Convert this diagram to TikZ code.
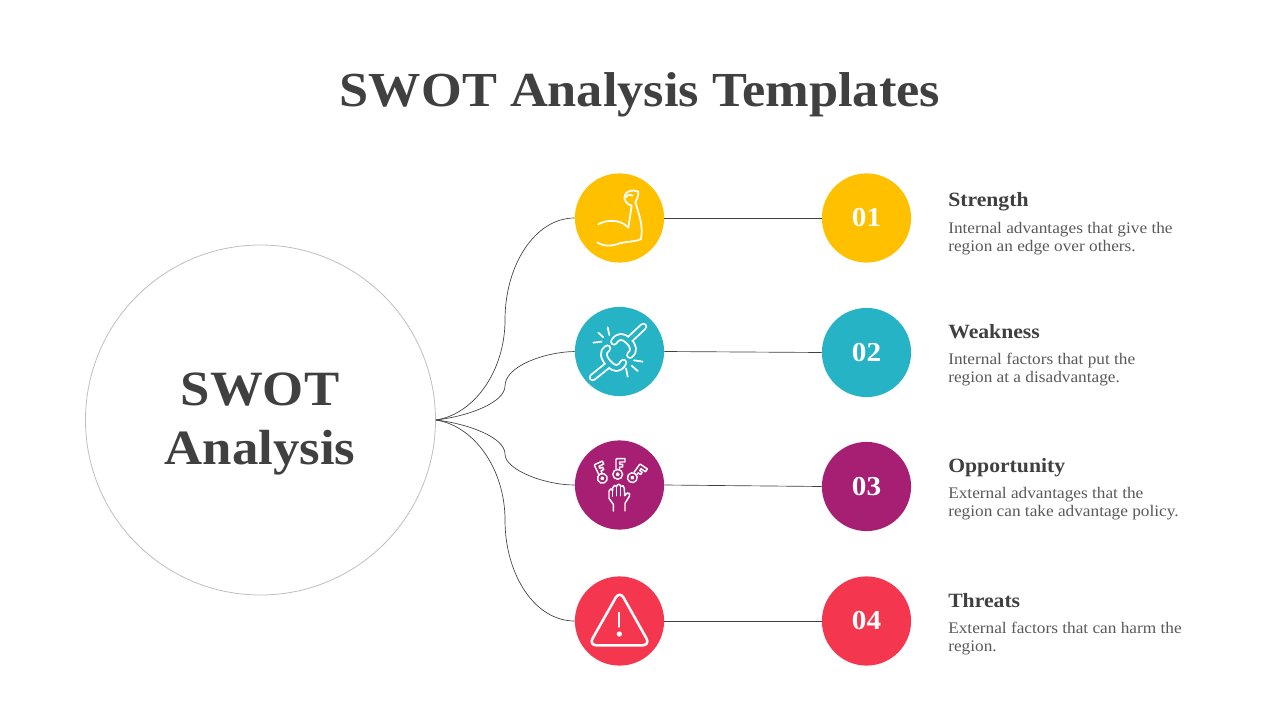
\documentclass[tikz,border=0pt]{standalone}
\usepackage{fontspec}
\setmainfont{Liberation Serif}[FakeStretch=1.07]
\definecolor{ink}{HTML}{404040}
\definecolor{bodyink}{HTML}{595959}
\definecolor{cyel}{HTML}{FFC000}
\definecolor{cteal}{HTML}{25B3C5}
\definecolor{cpur}{HTML}{A61F72}
\definecolor{cred}{HTML}{F4364F}
\tikzset{
  disc/.style={circle,inner sep=0pt,minimum size=66.9pt,fill=#1,text=white,font=\fontsize{20.5}{21}\selectfont\bfseries},
  link/.style={draw=ink,line width=0.5pt},
  heading/.style={anchor=base west,inner sep=0pt,text=ink,font=\fontsize{15.2}{18}\selectfont\bfseries},
  body/.style={anchor=north west,inner sep=0pt,align=left,text=bodyink,font=\fontsize{12.1}{13.7}\selectfont},
  ico/.style={draw=white,line width=1.3pt,line cap=round,line join=round,fill=none},
  icon/.style={x=0.25pt,y=-0.25pt,shift={#1}},
  outer/.style={draw=white,line width=5.8pt,line cap=round,line join=round},
  inner/.style={draw=#1,line width=3pt,line cap=round,line join=round}
}
\newcommand{\keyshape}[1]{%
  \fill[white] (0,0) circle[radius=17];
  \fill[#1] (0,0) circle[radius=12];
  \draw[ico,line width=1.1pt] (0,0) circle[radius=4];
  \draw[ico,line width=1.1pt] (-5,-16) -- (-5,-44) -- (-3,-47) -- (22,-47) -- (22,-37) -- (6,-37) -- (6,-30) -- (15,-30) -- (15,-22) -- (6,-22) -- (6,-16);
}
\begin{document}
\begin{tikzpicture}[x=0.75pt,y=-0.75pt]
\useasboundingbox (0,0) rectangle (1280,720);
\node[text=ink,font=\fontsize{36.7}{37}\selectfont\bfseries,anchor=base,inner sep=0pt] (title) at (640,106.5) {SWOT Analysis Templates};
\node[circle,draw=black!25,line width=0.6pt,minimum size=262.5pt,inner sep=0pt] (main) at (260.5,420) {};
\node[text=ink,align=center,inner sep=0pt,font=\fontsize{37}{44.5}\selectfont\bfseries] (mainlabel) at (260,424) {SWOT\\Analysis};

\node[disc=cyel] (i1) at (619.5,218) {};
\node[disc=cteal] (i2) at (619.5,351.5) {};
\node[disc=cpur] (i3) at (619.5,485) {};
\node[disc=cred] (i4) at (619.5,621) {};
\node[disc=cyel] (n1) at (866.5,218) {01};
\node[disc=cteal] (n2) at (866.5,352.5) {02};
\node[disc=cpur] (n3) at (866.5,486.5) {03};
\node[disc=cred] (n4) at (866.5,621) {04};

\coordinate (m1) at (505,320);
\coordinate (m2) at (505,386);
\coordinate (m3) at (505,454);
\coordinate (m4) at (505,520);
\draw[link] (main.east) .. controls (475,414) and (505,370) .. (m1) .. controls (505,265) and (535,218) .. (i1.west);
\draw[link] (main.east) .. controls (470,416) and (505,402) .. (m2) .. controls (505,366) and (545,352) .. (i2.west);
\draw[link] (main.east) .. controls (470,424) and (505,438) .. (m3) .. controls (505,470) and (545,485) .. (i3.west);
\draw[link] (main.east) .. controls (475,426) and (505,470) .. (m4) .. controls (505,575) and (535,621) .. (i4.west);
\draw[link] (i1.east) -- (n1.west);
\draw[link] (i2.east) -- (n2.west);
\draw[link] (i3.east) -- (n3.west);
\draw[link] (i4.east) -- (n4.west);

\node[heading] (h1) at (948,207) {Strength};
\node[heading] (h2) at (948,338) {Weakness};
\node[heading] (h3) at (948,472) {Opportunity};
\node[heading] (h4) at (948,607) {Threats};
\node[body] (b1) at (948,222) {Internal advantages that give the\\region an edge over others.};
\node[body] (b2) at (948,353) {Internal factors that put the\\region at a disadvantage.};
\node[body] (b3) at (948,487) {External advantages that the\\region can take advantage policy.};
\node[body] (b4) at (948,622) {External factors that can harm the\\region.};

% strength icon
\begin{scope}[icon={(427.5pt,-123.75pt)}]
\draw[ico] (85,178) .. controls (105,165) and (150,160) .. (175,188) -- (185,122) .. controls (170,118) and (160,105) .. (164,92) .. controls (166,78) and (190,72) .. (205,80) .. controls (207,95) and (198,105) .. (196,112) .. controls (208,150) and (220,185) .. (213,222) .. controls (195,232) and (165,228) .. (140,238) .. controls (115,245) and (95,242) .. (82,232);
\draw[ico] (168,97) .. controls (172,88) and (182,86) .. (188,92);
\end{scope}
% weakness icon
\begin{scope}[icon={(427.5pt,-225pt)}]
\draw[outer] (132,125) .. controls (145,105) and (160,108) .. (175,122) (175,122) -- (220,80) (175,122) .. controls (190,135) and (195,155) .. (180,165);
\draw[inner=cteal] (132,125) .. controls (145,105) and (160,108) .. (175,122) (175,122) -- (220,80) (175,122) .. controls (190,135) and (195,155) .. (180,165);
\draw[outer] (160,188) .. controls (148,210) and (133,208) .. (118,192) (118,192) -- (68,232) (118,192) .. controls (100,175) and (95,155) .. (112,145);
\draw[inner=cteal] (160,188) .. controls (148,210) and (133,208) .. (118,192) (118,192) -- (68,232) (118,192) .. controls (100,175) and (95,155) .. (112,145);
\draw[ico] (85,98) -- (100,112) (113,82) -- (118,105) (70,128) -- (95,125);
\draw[ico] (192,181) -- (218,185) (185,197) -- (203,213) (168,205) -- (173,230);
\end{scope}
% opportunity icon
\begin{scope}[icon={(427.5pt,-326.25pt)}]
\begin{scope}[shift={(143,118)}]\keyshape{cpur}\end{scope}
\begin{scope}[shift={(97,130)},rotate=25]\keyshape{cpur}\end{scope}
\begin{scope}[shift={(187,128)},rotate=-35]\keyshape{cpur}\end{scope}
\draw[ico,line width=1.1pt] (130,228) -- (130,208) -- (117,190) -- (117,168) .. controls (118,160) and (126,160) .. (128,166) -- (128,158) .. controls (130,150) and (138,150) .. (140,154) .. controls (142,146) and (150,146) .. (152,154) .. controls (156,150) and (163,152) .. (163,160) -- (164,182) -- (172,174) .. controls (178,172) and (182,178) .. (178,184) -- (165,205) -- (165,228);
\draw[ico,line width=1.1pt] (128,166) -- (128,184) (140,154) -- (140,182) (152,154) -- (152,182);
\end{scope}
% threats icon
\begin{scope}[icon={(427.5pt,-427.5pt)}]
\draw[draw=white,line width=1.9pt,line join=round,rounded corners=6pt] (149,62) -- (56,226) -- (241,226) -- cycle;
\draw[draw=white,line width=1.7pt,line cap=round] (148,128) -- (148,170);
\fill[white] (148,192) circle[radius=8];
\end{scope}
\end{tikzpicture}
\end{document}
